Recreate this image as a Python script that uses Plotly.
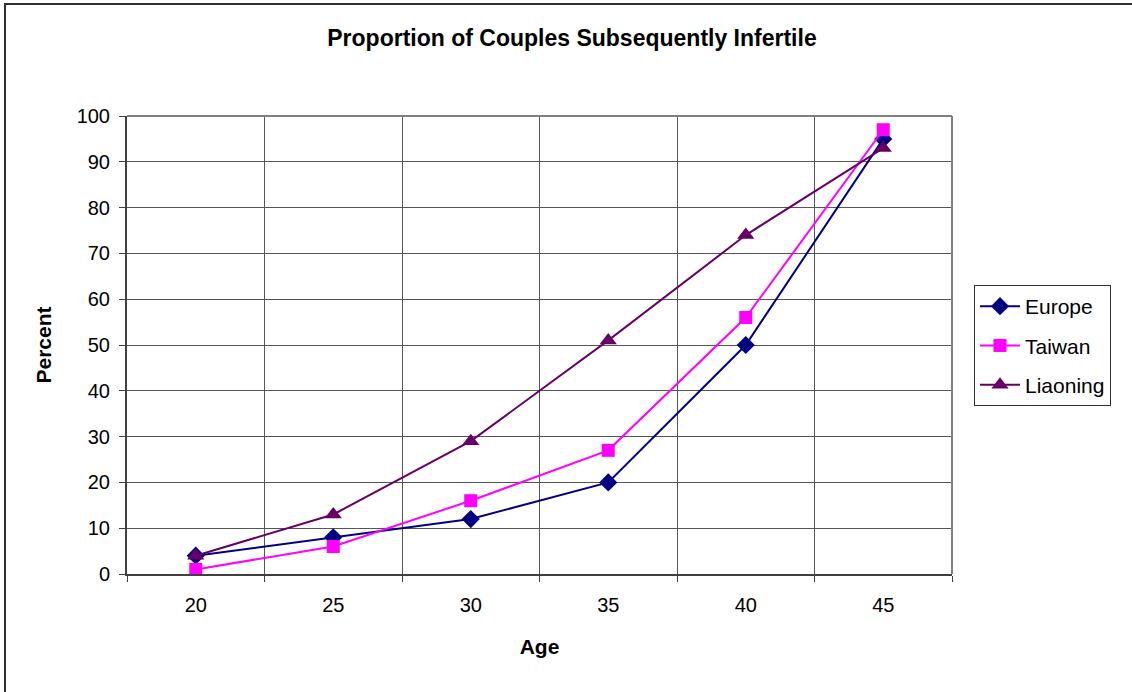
import plotly.graph_objects as go

ages = ["20", "25", "30", "35", "40", "45"]
europe = [4, 8, 12, 20, 50, 95]
taiwan = [1, 6, 16, 27, 56, 97]
liaoning = [4, 13, 29, 51, 74, 93]

W, H = 1132, 692
L, T = 127, 116
R = W - 952
B = H - 574
pw, ph = W - L - R, H - T - B

font = "Liberation Sans, Arial, sans-serif"

def px_x(p):
    return (p - L) / pw

def px_y(p):
    return (H - B - p) / ph

fig = go.Figure()
fig.add_trace(go.Scatter(x=ages, y=europe, name="Europe", mode="lines+markers",
                         legendgroup="a",
                         line=dict(color="#000080", width=2),
                         marker=dict(symbol="diamond", size=14, color="#000080")))
fig.add_trace(go.Scatter(x=ages, y=taiwan, name="Taiwan", mode="lines+markers",
                         legendgroup="b",
                         line=dict(color="#FF00FF", width=2),
                         marker=dict(symbol="square", size=13, color="#FF00FF")))
fig.add_trace(go.Scatter(x=ages, y=liaoning, name="Liaoning", mode="lines+markers",
                         legendgroup="c",
                         line=dict(color="#660066", width=2),
                         marker=dict(symbol="triangle-up", size=15, color="#660066")))

fig.update_layout(
    width=W, height=H,
    margin=dict(l=L, r=R, t=T, b=B, autoexpand=False),
    paper_bgcolor="white", plot_bgcolor="white",
    font=dict(family=font, size=20, color="black"),
    title=dict(text="<b>Proportion of Couples Subsequently Infertile</b>",
               x=572 / W, xanchor="center", y=1 - 38 / H, yanchor="middle",
               font=dict(size=23, family=font, color="black")),
    showlegend=True,
    legend=dict(x=px_x(974), xanchor="left", y=px_y(285), yanchor="top",
                bordercolor="#303030", borderwidth=1, bgcolor="white",
                font=dict(size=21, family=font, color="black"),
                traceorder="grouped", tracegroupgap=9, itemwidth=40),
    xaxis=dict(type="category", range=[-0.5, 5.5], tickson="boundaries",
               ticks="outside", ticklen=6,
               tickcolor="#404040", showgrid=True, gridcolor="#555555", gridwidth=1,
               showline=True, linecolor="#404040", linewidth=2, mirror=False,
               ticklabelstandoff=12,
               title=dict(text="<b>Age</b>", standoff=24, font=dict(size=21, family=font)),
               tickfont=dict(size=20, family=font), automargin=False, fixedrange=True),
    yaxis=dict(range=[0, 100], dtick=10, ticks="outside", ticklen=6,
               tickcolor="#404040", showgrid=True, gridcolor="#555555", gridwidth=1,
               showline=True, linecolor="#404040", linewidth=2, zeroline=False,
               ticklabelstandoff=5,
               title=dict(text="<b>Percent</b>", standoff=19, font=dict(size=21, family=font)),
               tickfont=dict(size=20, family=font), automargin=False, fixedrange=True),
    shapes=[
        dict(type="line", xref="paper", yref="paper", x0=0, x1=1, y0=1, y1=1,
             line=dict(color="#808080", width=2)),
        dict(type="line", xref="paper", yref="paper", x0=1, x1=1, y0=0, y1=1,
             line=dict(color="#808080", width=2)),
        dict(type="rect", xref="paper", yref="paper",
             x0=px_x(5), x1=px_x(1145), y0=px_y(4), y1=px_y(705),
             line=dict(color="#303030", width=2), layer="below"),
    ],
)

fig.write_html("out.html",
               config={"displayModeBar": False, "staticPlot": True},
               post_script="document.body.style.margin='0';document.body.style.padding='0';")
